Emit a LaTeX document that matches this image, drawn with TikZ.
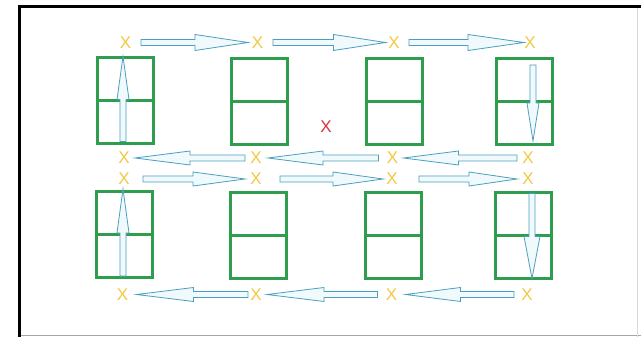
\documentclass[tikz,border=0pt]{standalone}
\usepackage{fontspec}
\setmainfont{Liberation Sans}
\usetikzlibrary{calc}
\definecolor{boxgreen}{HTML}{2E9E4E}
\definecolor{xyellow}{HTML}{F4C842}
\definecolor{xred}{HTML}{D8343C}
\definecolor{arrline}{HTML}{4A9FBF}
\definecolor{arrfill}{HTML}{F0FAFC}
\tikzset{
  win/.style={draw=boxgreen, line width=3pt, minimum width=56pt, minimum height=86pt, inner sep=0pt},
  xmark/.style={text=xyellow, font=\fontsize{17}{17}\selectfont, inner sep=0pt},
  redmark/.style={text=xred, font=\fontsize{17}{17}\selectfont, inner sep=0pt},
  blockarr/.style={draw=arrline, fill=arrfill, line width=0.8pt, line join=miter},
}
% #1 from, #2 to, #3 start gap, #4 end gap, #5 head length, #6 head half width
\newcommand\barrow[6]{%
  \path ($(#1)!#3!(#2)$) coordinate (S) ($(#2)!#4!(#1)$) coordinate (E);
  \path ($(E)!#5!(S)$) coordinate (H);
  \draw[blockarr] ($(S)!3pt!90:(E)$) -- ($(H)!3pt!90:(E)$) -- ($(H)!#6!90:(E)$)
    -- (E) -- ($(H)!#6!-90:(E)$) -- ($(H)!3pt!-90:(E)$) -- ($(S)!3pt!-90:(E)$) -- cycle;
}
\begin{document}
\begin{tikzpicture}[x=1pt,y=-1pt]
\useasboundingbox (0,0) rectangle (641,337);
\fill[white] (0,0) rectangle (641,337);
% frame
\draw[black!35, line width=1pt] (20,335.5) -- (641,335.5);
\draw[black!15, line width=1pt] (637,7) -- (637,337);
\draw[black, line width=3pt] (641,7) -- (19.5,7) -- (19.5,337);

% windows
\foreach \n/\x/\y in {w1/125/101, w2/259/101.5, w3/394/101.5, w4/524/101.5,
                      v1/124/234.5, v2/258/235, v3/393/235, v4/523/235}{
  \node[win] (\n) at (\x,\y) {};
  \draw[boxgreen, line width=3pt] (\n.west) -- (\n.east);
}

% X marks
\foreach \n/\x/\y in {t1/125.5/42.5, t2/257.5/42.5, t3/394/42.5, t4/530/42.5,
                      m1/124/158, m2/256/158, m3/392.5/158, m4/528/158,
                      n1/124/179, n2/256/179, n3/392/179, n4/528/179,
                      b1/122.5/294.5, b2/256/294.5, b3/391.5/294.5, b4/527/294.5}{
  \node[xmark] (\n) at (\x,\y) {X};
}
\node[redmark] (c) at (326,126.5) {X};

% horizontal arrows
\barrow{t1}{t2}{15.5pt}{9.5pt}{53pt}{8pt}
\barrow{t2}{t3}{15.5pt}{8.5pt}{52pt}{8pt}
\barrow{t3}{t4}{15pt}{6pt}{56pt}{8pt}
\barrow{m2}{m1}{11pt}{11pt}{55pt}{7pt}
\barrow{m3}{m2}{14pt}{12pt}{55pt}{7pt}
\barrow{m4}{m3}{11pt}{11pt}{55pt}{7pt}
\barrow{n1}{n2}{19pt}{11pt}{52pt}{7pt}
\barrow{n2}{n3}{24pt}{9pt}{50pt}{7pt}
\barrow{n3}{n4}{27pt}{11pt}{48pt}{7pt}
\barrow{b2}{b1}{8pt}{14pt}{57pt}{7pt}
\barrow{b3}{b2}{14pt}{11pt}{57pt}{7pt}
\barrow{b4}{b3}{13pt}{14pt}{55pt}{7pt}

% vertical arrows inside windows
\path ($(w1.south)+(-2,-4)$) coordinate (a1s) ($(w1.north)+(-2,0)$) coordinate (a1e);
\barrow{a1s}{a1e}{0pt}{0pt}{43pt}{6pt}
\path ($(w4.north)+(9,8)$) coordinate (a4s) ($(w4.south)+(9,-5)$) coordinate (a4e);
\barrow{a4s}{a4e}{0pt}{0pt}{38pt}{6pt}
\path ($(v1.south)+(-1,-3)$) coordinate (a5s) ($(v1.north)+(-1,-1)$) coordinate (a5e);
\barrow{a5s}{a5e}{0pt}{0pt}{44pt}{6pt}
\path ($(v4.north)+(9,3)$) coordinate (a8s) ($(v4.south)+(9,-1)$) coordinate (a8e);
\barrow{a8s}{a8e}{0pt}{0pt}{42pt}{8pt}
\end{tikzpicture}
\end{document}
